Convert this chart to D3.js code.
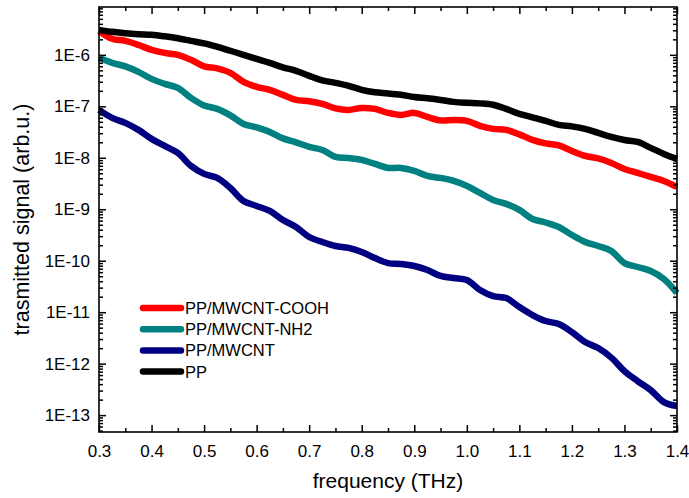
<!DOCTYPE html>
<html>
<head>
<meta charset="utf-8">
<script src="https://cdn.jsdelivr.net/npm/d3@7"></script>
<style>
  body { margin: 0; background: #fff; }
</style>
</head>
<body>
<script>
// frequency grid (THz)
const freq = [0.300, 0.325, 0.350, 0.375, 0.400, 0.425, 0.450, 0.475, 0.500, 0.525,
              0.550, 0.575, 0.600, 0.625, 0.650, 0.675, 0.700, 0.725, 0.750, 0.775,
              0.800, 0.825, 0.850, 0.875, 0.900, 0.925, 0.950, 0.975, 1.000, 1.025,
              1.050, 1.075, 1.100, 1.125, 1.150, 1.175, 1.200, 1.225, 1.250, 1.275,
              1.300, 1.325, 1.350, 1.375, 1.400];

// transmitted signal (arb.u.)
const ppCooh = [2.93e-6, 2.05e-6, 1.87e-6, 1.56e-6, 1.25e-6, 1.09e-6, 1.0e-6, 8.0e-7, 5.97e-7, 5.47e-7,
                4.47e-7, 2.99e-7, 2.39e-7, 2.09e-7, 1.67e-7, 1.33e-7, 1.25e-7, 1.11e-7, 9.1e-8, 8.5e-8,
                9.3e-8, 8.9e-8, 7.45e-8, 6.81e-8, 7.45e-8, 6.22e-8, 5.33e-8, 5.44e-8, 5.21e-8, 4.16e-8,
                3.64e-8, 3.48e-8, 2.85e-8, 2.22e-8, 1.90e-8, 1.74e-8, 1.36e-8, 1.09e-8, 9.7e-9, 7.95e-9,
                6.07e-9, 5.08e-9, 4.25e-9, 3.55e-9, 2.71e-9];
const ppNh2 = [8.74e-7, 6.98e-7, 5.97e-7, 4.67e-7, 3.41e-7, 2.73e-7, 2.28e-7, 1.46e-7, 1.04e-7, 8.9e-8,
               6.67e-8, 4.55e-8, 3.89e-8, 3.18e-8, 2.38e-8, 1.99e-8, 1.63e-8, 1.42e-8, 1.04e-8, 9.9e-9,
               9.1e-9, 7.6e-9, 6.35e-9, 6.35e-9, 5.55e-9, 4.44e-9, 4.06e-9, 3.55e-9, 2.84e-9, 2.07e-9,
               1.52e-9, 1.27e-9, 9.7e-10, 6.47e-10, 5.53e-10, 4.53e-10, 3.16e-10, 2.31e-10, 1.93e-10, 1.55e-10,
               9.0e-11, 7.55e-11, 6.31e-11, 4.41e-11, 2.36e-11];
const ppMwcnt = [8.53e-8, 5.96e-8, 4.76e-8, 3.48e-8, 2.33e-8, 1.70e-8, 1.24e-8, 6.95e-9, 4.86e-9, 4.06e-9,
                 2.59e-9, 1.45e-9, 1.16e-9, 9.3e-10, 6.19e-10, 4.53e-10, 2.89e-10, 2.31e-10, 1.93e-10, 1.77e-10,
                 1.48e-10, 1.13e-10, 9.0e-11, 8.63e-11, 7.89e-11, 6.60e-11, 5.05e-11, 4.61e-11, 4.22e-11, 2.70e-11,
                 2.06e-11, 1.88e-11, 1.26e-11, 8.8e-12, 6.73e-12, 5.89e-12, 4.11e-12, 2.63e-12, 2.01e-12, 1.31e-12,
                 7.17e-13, 4.59e-13, 3.06e-13, 1.79e-13, 1.50e-13];
const pp = [3.06e-6, 2.80e-6, 2.62e-6, 2.51e-6, 2.45e-6, 2.29e-6, 2.10e-6, 1.87e-6, 1.67e-6, 1.43e-6,
            1.20e-6, 1.0e-6, 8.36e-7, 6.98e-7, 5.71e-7, 4.89e-7, 3.91e-7, 3.19e-7, 2.86e-7, 2.50e-7,
            2.09e-7, 1.87e-7, 1.78e-7, 1.67e-7, 1.52e-7, 1.43e-7, 1.33e-7, 1.22e-7, 1.17e-7, 1.14e-7,
            1.07e-7, 8.9e-8, 7.13e-8, 6.10e-8, 5.21e-8, 4.36e-8, 4.07e-8, 3.64e-8, 3.04e-8, 2.55e-8,
            2.22e-8, 2.03e-8, 1.56e-8, 1.19e-8, 9.5e-9];

const seriesNames = ["PP/MWCNT-COOH", "PP/MWCNT-NH2", "PP/MWCNT", "PP"];
const seriesColors = ["#ff0000", "#008080", "#000080", "#000000"];

const xTicks = [0.3, 0.4, 0.5, 0.6, 0.7, 0.8, 0.9, 1.0, 1.1, 1.2, 1.3, 1.4];
const xMinorTicks = [0.35, 0.45, 0.55, 0.65, 0.75, 0.85, 0.95, 1.05, 1.15, 1.25, 1.35];
const yTicks = [1e-13, 1e-12, 1e-11, 1e-10, 1e-9, 1e-8, 1e-7, 1e-6];

const width = 689, height = 498;
const plot = {left: 99, right: 677, top: 7, bottom: 432};
const font = "Arial, 'Liberation Sans', sans-serif";

const x = d3.scaleLinear().domain([0.3, 1.4]).range([plot.left, plot.right]);
const y = d3.scaleLog().domain([4.7e-14, 8.5e-6]).range([plot.bottom, plot.top]);

// log minor ticks 2..9 per decade
const yMinorTicks = [];
for (let k = -14; k <= -6; k++) {
  for (let m = 2; m <= 9; m++) {
    const v = m * Math.pow(10, k);
    if (v > y.domain()[0] && v < y.domain()[1]) yMinorTicks.push(v);
  }
}

const svg = d3.select("body").append("svg")
    .attr("width", width)
    .attr("height", height)
    .style("font-family", font);

const line = d3.line()
    .x((d, i) => x(freq[i]))
    .y(d => y(d))
    .curve(d3.curveCatmullRom);

const allSeries = [ppCooh, ppNh2, ppMwcnt, pp];

svg.append("g")
    .attr("fill", "none")
    .attr("stroke-width", 6.5)
    .attr("stroke-linejoin", "round")
  .selectAll("path")
  .data(allSeries)
  .join("path")
    .attr("stroke", (d, i) => seriesColors[i])
    .attr("d", line);

// axes, ticks pointing inward
function styleAxis(g) {
  g.select(".domain").remove();
  g.selectAll(".tick line").attr("stroke", "#000").attr("stroke-width", 1.5);
  g.selectAll("text")
      .attr("font-family", font)
      .attr("font-size", 17)
      .attr("fill", "#000");
}

svg.append("g")
    .attr("transform", `translate(0,${plot.bottom})`)
    .call(d3.axisBottom(x).tickValues(xTicks).tickSize(-7).tickPadding(13).tickFormat(d3.format(".1f")))
    .call(styleAxis);
svg.append("g")
    .attr("transform", `translate(0,${plot.bottom})`)
    .call(d3.axisBottom(x).tickValues(xMinorTicks).tickSize(-4).tickFormat(""))
    .call(styleAxis);
svg.append("g")
    .attr("transform", `translate(0,${plot.top})`)
    .call(d3.axisTop(x).tickValues(xTicks).tickSize(-7).tickFormat(""))
    .call(styleAxis);
svg.append("g")
    .attr("transform", `translate(0,${plot.top})`)
    .call(d3.axisTop(x).tickValues(xMinorTicks).tickSize(-4).tickFormat(""))
    .call(styleAxis);

svg.append("g")
    .attr("transform", `translate(${plot.left},0)`)
    .call(d3.axisLeft(y).tickValues(yTicks).tickSize(-7).tickPadding(9)
      .tickFormat(d => "1E" + Math.round(Math.log10(d))))
    .call(styleAxis);
svg.append("g")
    .attr("transform", `translate(${plot.left},0)`)
    .call(d3.axisLeft(y).tickValues(yMinorTicks).tickSize(-4).tickFormat(""))
    .call(styleAxis);
svg.append("g")
    .attr("transform", `translate(${plot.right},0)`)
    .call(d3.axisRight(y).tickValues(yTicks).tickSize(-7).tickFormat(""))
    .call(styleAxis);
svg.append("g")
    .attr("transform", `translate(${plot.right},0)`)
    .call(d3.axisRight(y).tickValues(yMinorTicks).tickSize(-4).tickFormat(""))
    .call(styleAxis);

// frame
svg.append("rect")
    .attr("x", plot.left)
    .attr("y", plot.top)
    .attr("width", plot.right - plot.left)
    .attr("height", plot.bottom - plot.top)
    .attr("fill", "none")
    .attr("stroke", "#000")
    .attr("stroke-width", 1.6);

// axis titles
svg.append("text")
    .attr("x", (plot.left + plot.right) / 2)
    .attr("y", 488)
    .attr("text-anchor", "middle")
    .attr("font-size", 21)
    .text("frequency (THz)");

svg.append("text")
    .attr("transform", `translate(29,${(plot.top + plot.bottom) / 2}) rotate(-90)`)
    .attr("text-anchor", "middle")
    .attr("font-size", 21.5)
    .text("trasmitted signal (arb.u.)");

// legend
const legend = svg.append("g")
    .attr("transform", "translate(140,308)");
const item = legend.selectAll("g")
  .data(seriesNames)
  .join("g")
    .attr("transform", (d, i) => `translate(0,${i * 21.2})`);
item.append("line")
    .attr("x1", 3).attr("x2", 41)
    .attr("stroke", (d, i) => seriesColors[i])
    .attr("stroke-width", 6.5)
    .attr("stroke-linecap", "round");
item.append("text")
    .attr("x", 45)
    .attr("dy", "0.36em")
    .attr("font-size", 16.5)
    .text(d => d);
</script>
</body>
</html>
